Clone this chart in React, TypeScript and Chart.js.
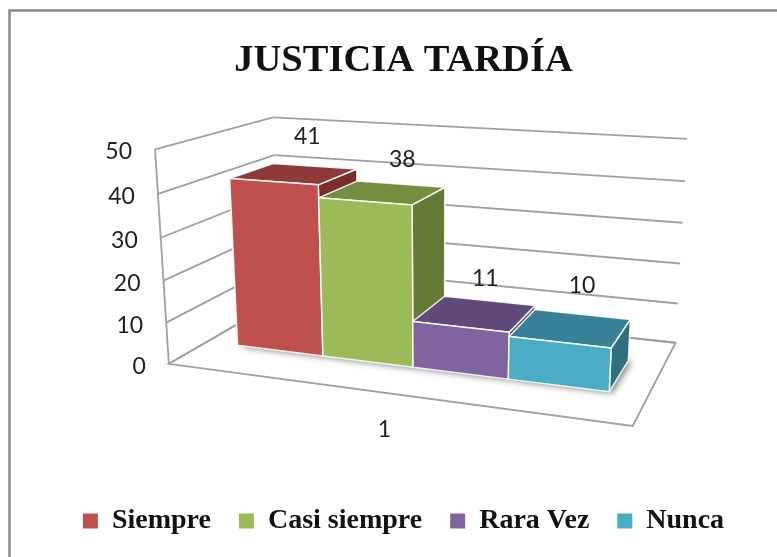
import React, { useEffect, useRef } from "react";
import { Chart, registerables } from "chart.js";

Chart.register(...registerables);

const TITLE = "JUSTICIA TARDÍA";
const CATEGORIES = ["1"];
const SERIES_NAMES = ["Siempre", "Casi siempre", "Rara Vez", "Nunca"];
const SIEMPRE = [41];
const CASI_SIEMPRE = [38];
const RARA_VEZ = [11];
const NUNCA = [10];

const FRONT = ["#C0504D", "#9BBB59", "#8064A2", "#4BACC6"];
const TOP = ["#8E3A38", "#748E3F", "#604A7B", "#378298"];
const SIDE = ["#7A2D2B", "#647A35", "#523F6A", "#2F6F80"];

// Perspective camera of the 3D view: maps (category, value, depth), each 0..1, to the page.
const CAMERA_X = [3.80783, -0.214, 1.62968, 1.68846];
const CAMERA_Y = [0.06159, -2.21843, -0.08462, 3.63836];
const CAMERA_W = [-0.13129, -0.04898, 0.1861];
const project = (u: number, v: number, d: number): [number, number] => {
  const w = CAMERA_W[0] * u + CAMERA_W[1] * v + CAMERA_W[2] * d + 1;
  return [
    (100 * (CAMERA_X[0] * u + CAMERA_X[1] * v + CAMERA_X[2] * d + CAMERA_X[3])) / w,
    (100 * (CAMERA_Y[0] * u + CAMERA_Y[1] * v + CAMERA_Y[2] * d + CAMERA_Y[3])) / w,
  ];
};

const DEPTH_FRONT = 0.31;
const DEPTH_BACK = 0.7;
const LABEL_NUDGE: [number, number][] = [[-7, -5], [2, 0], [-4, 3], [0, -4]];

const poly = (ctx: CanvasRenderingContext2D, pts: [number, number][]) => {
  ctx.beginPath();
  pts.forEach((p, i) => (i ? ctx.lineTo(p[0], p[1]) : ctx.moveTo(p[0], p[1])));
  ctx.closePath();
};
const line = (ctx: CanvasRenderingContext2D, a: [number, number], b: [number, number]) => {
  ctx.beginPath();
  ctx.moveTo(a[0], a[1]);
  ctx.lineTo(b[0], b[1]);
  ctx.stroke();
};

const scene3d = {
  id: "scene3d",
  beforeDatasetsDraw(chart: any) {
    const { ctx, chartArea: a, scales, width, height } = chart;
    const ys = scales.y;
    ctx.save();
    // Chart frame: only its top and left edges fall inside the picture
    ctx.strokeStyle = "#8A8A8A";
    ctx.lineWidth = 2.5;
    ctx.beginPath();
    ctx.moveTo(9.5, height);
    ctx.lineTo(9.5, 10.5);
    ctx.lineTo(width, 10.5);
    ctx.stroke();

    ctx.strokeStyle = "#A0A0A0";
    ctx.lineWidth = 1.8;
    line(ctx, project(0, 0, 0), project(0, 1, 0));
    for (const t of ys.ticks) {
      const v = (a.bottom - ys.getPixelForValue(t.value)) / a.height;
      line(ctx, project(0, v, 0), project(0, v, 1));
      line(ctx, project(0, v, 1), project(1, v, 1));
    }
    poly(ctx, [project(0, 0, 0), project(1, 0, 0), project(1, 0, 1), project(0, 0, 1)]);
    ctx.stroke();

    ctx.textBaseline = "middle";
    ctx.textAlign = "right";
    ctx.fillStyle = "#1F1F1F";
    ctx.font = "23px Lato";
    for (const t of ys.ticks) {
      const v = (a.bottom - ys.getPixelForValue(t.value)) / a.height;
      const p = project(0, v, 0);
      ctx.fillText(String(t.value), p[0] - 23, p[1] + 2.5);
    }

    const bars = chart.data.datasets.map((_: any, i: number) => chart.getDatasetMeta(i).data[0]);
    const span = (el: any) => ({
      u0: (el.x - el.width / 2 - a.left) / a.width,
      u1: (el.x + el.width / 2 - a.left) / a.width,
      v: (a.bottom - el.y) / a.height,
    });
    bars.forEach((el: any) => {
      const { u0, u1 } = span(el);
      ctx.save();
      ctx.shadowColor = "rgba(0,0,0,0.55)";
      ctx.shadowBlur = 7;
      ctx.shadowOffsetX = 3;
      ctx.shadowOffsetY = 1;
      ctx.fillStyle = "#777";
      poly(ctx, [project(u0, 0, DEPTH_FRONT), project(u1, 0, DEPTH_FRONT), project(u1, 0, DEPTH_BACK), project(u0, 0, DEPTH_BACK)]);
      ctx.fill();
      ctx.restore();
    });
    bars.forEach((el: any, i: number) => {
      const { u0, u1, v } = span(el);
      ctx.strokeStyle = "rgba(255,255,255,0.9)";
      ctx.lineWidth = 1.5;
      ctx.lineJoin = "round";
      ctx.fillStyle = SIDE[i];
      poly(ctx, [project(u1, 0, DEPTH_FRONT), project(u1, 0, DEPTH_BACK), project(u1, v, DEPTH_BACK), project(u1, v, DEPTH_FRONT)]);
      ctx.fill();
      ctx.stroke();
      ctx.fillStyle = TOP[i];
      poly(ctx, [project(u0, v, DEPTH_FRONT), project(u1, v, DEPTH_FRONT), project(u1, v, DEPTH_BACK), project(u0, v, DEPTH_BACK)]);
      ctx.fill();
      ctx.stroke();
      ctx.fillStyle = FRONT[i];
      poly(ctx, [project(u0, 0, DEPTH_FRONT), project(u1, 0, DEPTH_FRONT), project(u1, v, DEPTH_FRONT), project(u0, v, DEPTH_FRONT)]);
      ctx.fill();
      ctx.stroke();
    });
    ctx.textAlign = "center";
    ctx.fillStyle = "#1F1F1F";
    bars.forEach((el: any, i: number) => {
      const { v } = span(el);
      const p = project((el.x - a.left) / a.width, v, DEPTH_BACK);
      ctx.fillText(String(chart.data.datasets[i].data[0]), p[0] + LABEL_NUDGE[i][0], p[1] - 25 + LABEL_NUDGE[i][1]);
    });
    ctx.restore();
    return false;
  },
};

export default function App() {
  const ref = useRef<HTMLCanvasElement>(null);
  useEffect(() => {
    const values = [SIEMPRE, CASI_SIEMPRE, RARA_VEZ, NUNCA];
    const chart = new Chart(ref.current!, {
      type: "bar",
      data: {
        labels: CATEGORIES,
        datasets: SERIES_NAMES.map((label, i) => ({
          label,
          data: values[i],
          backgroundColor: FRONT[i],
          categoryPercentage: 0.845,
          barPercentage: 1,
        })),
      },
      options: {
        responsive: false,
        animation: false,
        layout: { padding: { left: 30, right: 0, top: 38, bottom: 12 } },
        plugins: {
          title: {
            display: true,
            text: TITLE,
            color: "#111",
            font: { family: "Liberation Serif", size: 38.5, weight: "bold" },
            padding: { top: 0, bottom: 34 },
          },
          legend: {
            position: "bottom",
            labels: {
              boxWidth: 15,
              boxHeight: 15,
              padding: 28,
              color: "#111",
              font: { family: "Liberation Serif", size: 28, weight: "bold" },
            },
          },
          tooltip: { enabled: false },
        },
        scales: {
          x: {
            grid: { display: false },
            border: { display: false },
            ticks: { color: "#1F1F1F", font: { family: "Lato", size: 23 }, padding: 29, labelOffset: -23 },
            afterFit(scale: any) {
              scale.height = 100;
            },
          },
          y: {
            min: 0,
            max: 50,
            grid: { display: false },
            border: { display: false },
            ticks: { display: false, stepSize: 10 },
          },
        },
      },
      plugins: [scene3d],
    } as any);
    return () => chart.destroy();
  }, []);
  return (
    <div style={{ position: "absolute", left: 0, top: 0 }}>
      <canvas ref={ref} width={777} height={557} style={{ display: "block", filter: "blur(0.5px)" }} />
    </div>
  );
}
